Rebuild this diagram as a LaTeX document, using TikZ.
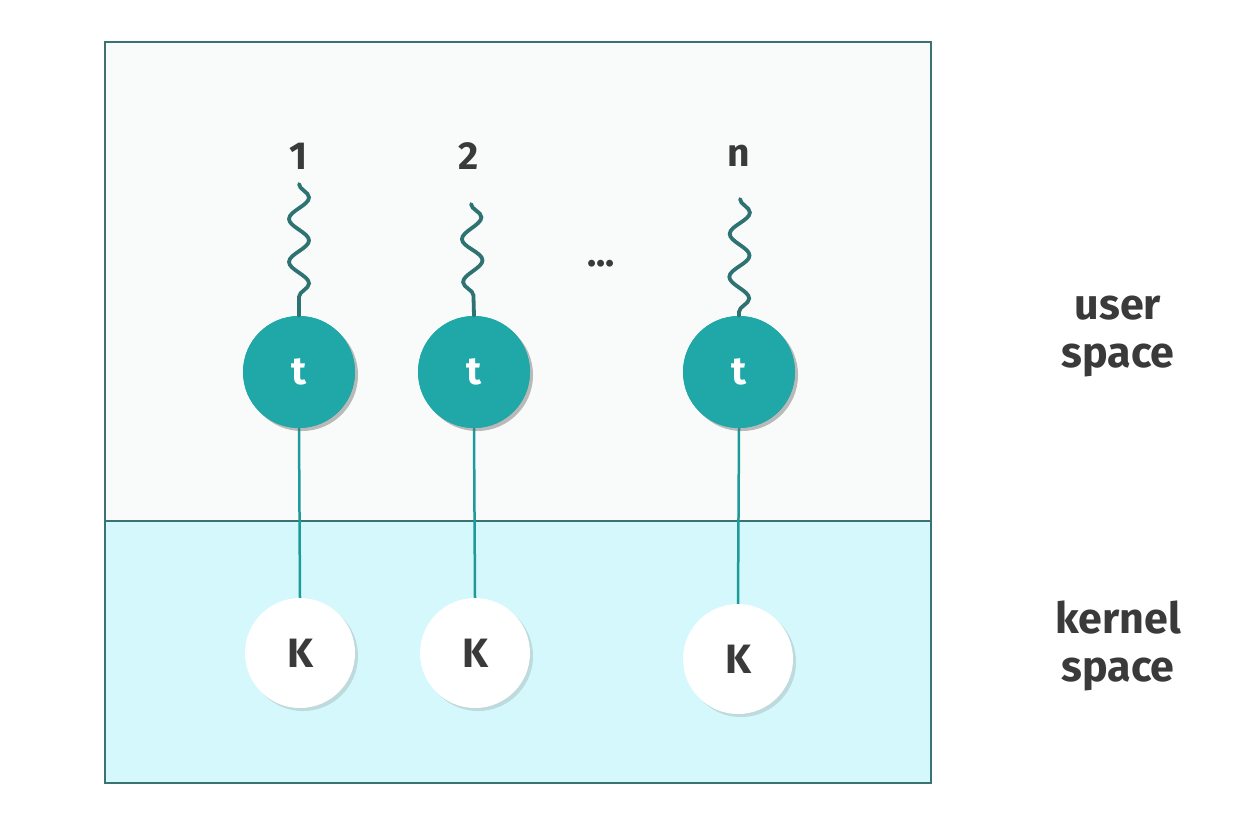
\documentclass[tikz,border=0pt]{standalone}
\usepackage{fontspec}
\setmainfont{Fira Sans}
\usetikzlibrary{decorations.pathmorphing,shadows}
\definecolor{tealfill}{HTML}{20A8A8}
\definecolor{tealline}{HTML}{1E9A9A}
\definecolor{wavecol}{HTML}{2F7272}
\definecolor{bordercol}{HTML}{3B7272}
\definecolor{userbg}{HTML}{F9FBFB}
\definecolor{kernbg}{HTML}{D4F8FB}
\definecolor{txt}{HTML}{3A3A3A}
\begin{document}
\begin{tikzpicture}[x=1pt,y=-1pt,
  tnode/.style={circle,minimum size=112pt,inner sep=0pt,fill=tealfill,text=white,
    font=\bfseries\fontsize{39}{40}\selectfont,
    drop shadow={shadow xshift=3pt,shadow yshift=-3pt,opacity=0.25,fill=black!60}},
  knode/.style={circle,minimum size=110pt,inner sep=0pt,fill=white,text=txt,
    font=\bfseries\fontsize{41}{42}\selectfont,
    drop shadow={shadow xshift=3pt,shadow yshift=-3pt,opacity=0.2,fill=black!60}},
  numlabel/.style={text=txt,font=\bfseries\fontsize{39}{40}\selectfont,inner sep=0pt},
  sidelabel/.style={text=txt,font=\bfseries\fontsize{43}{48}\selectfont,align=center,inner sep=0pt},
  wave/.style={draw=wavecol,line width=3.8pt,line cap=round,
    decorate,decoration={snake,segment length=43pt,amplitude=10pt}},
  link/.style={draw=tealline,line width=2.5pt},
  border/.style={draw=bordercol,line width=2.5pt}]
\useasboundingbox (0,0) rectangle (1238,828);
\fill[white] (0,0) rectangle (1238,828);
\fill[userbg] (105,42) rectangle (931,521);
\fill[kernbg] (105,521) rectangle (931,783);
\draw[border] (105,42) rectangle (931,783);
\draw[border] (105,521) -- (931,521);

% kernel nodes
\node[knode] (k1) at (300,653) {K};
\node[knode] (k2) at (475,653) {K};
\node[knode] (k3) at (738,659) {K};

% thread nodes
\node[tnode] (t1) at (299,372) {t};
\node[tnode] (t2) at (474,372) {t};
\node[tnode] (t3) at (739,372) {t};
\path[link] (t1.south) -- (k1.north);
\path[link] (t2.south) -- (k2.north);
\path[link] (t3.south) -- (k3.north);
\node[tnode] at (t1) {t};
\node[tnode] at (t2) {t};
\node[tnode] at (t3) {t};

% labels
\node[numlabel] (l1) at (299,156) {1};
\node[numlabel] (l2) at (469,156) {2};
\node[numlabel] (l3) at (739,156) {n};
\coordinate (w1) at (299,184);
\coordinate (w2) at (471,204);
\coordinate (w3) at (740,199);
\path[wave] (w1) -- (t1.north);
\path[wave] (w2) -- (t2.north);
\path[wave] (w3) -- (t3.north);

\node[text=txt,font=\bfseries\fontsize{38}{40}\selectfont] (dots) at (601,264) {...};

\node[sidelabel] (us) at (1118,336) {user\\space};
\node[sidelabel] (ks) at (1118,646) {kernel\\space};
\end{tikzpicture}
\end{document}
